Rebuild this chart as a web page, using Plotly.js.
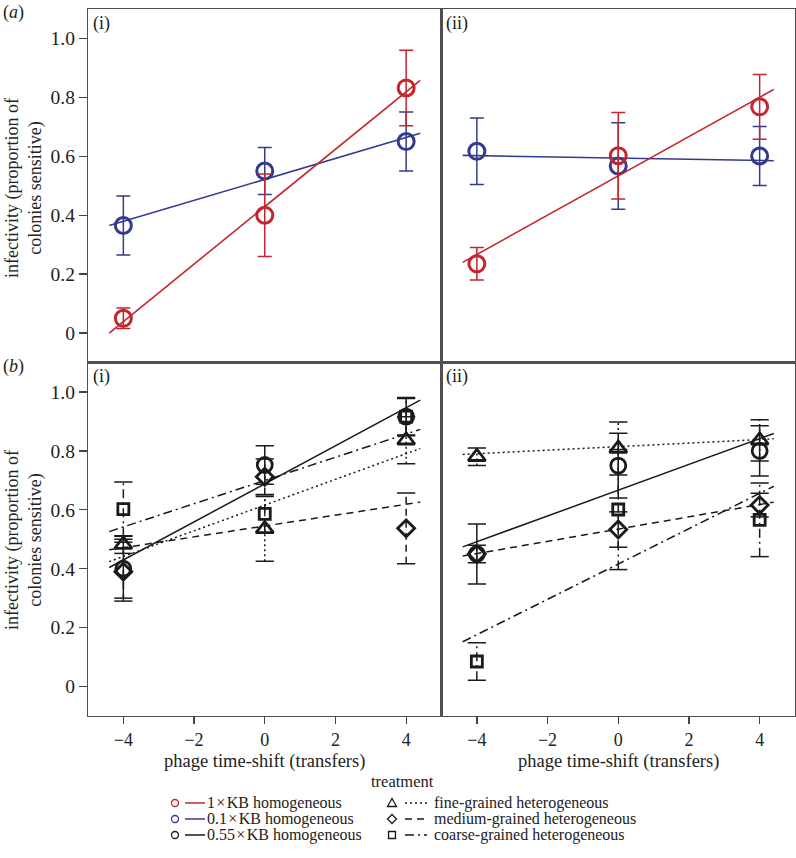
<!DOCTYPE html>
<html>
<head>
<meta charset="utf-8">
<script src="https://cdn.plot.ly/plotly-3.0.1.min.js"></script>
<style>html,body{margin:0;padding:0;background:#fff;}#chart{width:796px;height:858px;}</style>
</head>
<body>
<div id="chart"></div>
<script>
// ---------- DATA ----------
const timeShift = [-4, 0, 4];
const fitX = [-4.4, 4.4];
const yTickVals = [0, 0.2, 0.4, 0.6, 0.8, 1.0];
const yTickText = ['0', '0.2', '0.4', '0.6', '0.8', '1.0'];
const xTickVals = [-4, -2, 0, 2, 4];
const xTickText = ['\u22124', '\u22122', '0', '2', '4'];

// panel (a)(i)
const a1RedY = [0.050, 0.400, 0.832];
const a1RedErr = [0.035, 0.140, 0.128];
const a1RedFit = [0.000, 0.858];
const a1BlueY = [0.365, 0.550, 0.650];
const a1BlueErr = [0.100, 0.080, 0.100];
const a1BlueFit = [0.365, 0.678];
// panel (a)(ii)
const a2RedY = [0.235, 0.602, 0.768];
const a2RedErr = [0.055, 0.147, 0.110];
const a2RedFit = [0.240, 0.827];
const a2BlueY = [0.617, 0.567, 0.601];
const a2BlueErr = [0.113, 0.147, 0.100];
const a2BlueFit = [0.603, 0.585];

// panel (b)(i)
const b1CircY = [0.400, 0.752, 0.916];
const b1CircErr = [0.100, 0.065, 0.065];
const b1CircFit = [0.404, 0.972];
const b1TriY = [0.482, 0.535, 0.836];
const b1TriErr = [0.030, 0.110, 0.080];
const b1TriFit = [0.424, 0.808];
const b1DiaY = [0.390, 0.712, 0.537];
const b1DiaErr = [0.100, 0.060, 0.120];
const b1DiaFit = [0.464, 0.626];
const b1SqY = [0.602, 0.586, 0.916];
const b1SqErr = [0.092, 0.065, 0.062];
const b1SqFit = [0.526, 0.873];
// panel (b)(ii)
const b2CircY = [0.450, 0.750, 0.800];
const b2CircErr = [0.102, 0.110, 0.085];
const b2CircFit = [0.474, 0.859];
const b2TriY = [0.780, 0.808, 0.836];
const b2TriErr = [0.030, 0.090, 0.070];
const b2TriFit = [0.788, 0.841];
const b2DiaY = [0.450, 0.533, 0.616];
const b2DiaErr = [0.030, 0.060, 0.040];
const b2DiaFit = [0.443, 0.626];
const b2SqY = [0.085, 0.601, 0.566];
const b2SqErr = [0.064, 0.204, 0.125];
const b2SqFit = [0.152, 0.680];

// ---------- STYLE ----------
const RED = '#c4262e';
const BLUE = '#333a90';
const BLACK = '#1a1a1a';
const FONT = '"Liberation Serif"';
const DASH = {solid: 'solid', dot: '2px,3px', dash: '7px,5px', dashdot: '9px,4px,2px,4px'};

const traces = [];
function homTrace(xa, ya, ys, errs, fit, color) {
  traces.push({x: fitX, y: fit, xaxis: xa, yaxis: ya, mode: 'lines', type: 'scatter',
    line: {color: color, width: 1.6}, hoverinfo: 'skip', showlegend: false});
  traces.push({x: timeShift, y: ys, xaxis: xa, yaxis: ya, mode: 'markers', type: 'scatter',
    marker: {symbol: 'circle-open', size: 16, color: color, line: {color: color, width: 3}},
    error_y: {type: 'data', array: errs, visible: true, color: color, thickness: 1.5, width: 7},
    showlegend: false});
}
function hetTrace(xa, ya, ys, errs, fit, symbol, size, dash) {
  traces.push({x: fitX, y: fit, xaxis: xa, yaxis: ya, mode: 'lines', type: 'scatter',
    line: {color: BLACK, width: 1.5, dash: DASH[dash]}, hoverinfo: 'skip', showlegend: false});
  const ex = [], ey = [], cx = [], cy = [];
  for (let i = 0; i < timeShift.length; i++) {
    ex.push(timeShift[i], timeShift[i], null);
    ey.push(ys[i] - errs[i], ys[i] + errs[i], null);
    cx.push(timeShift[i], timeShift[i]);
    cy.push(ys[i] - errs[i], ys[i] + errs[i]);
  }
  traces.push({x: ex, y: ey, xaxis: xa, yaxis: ya, mode: 'lines', type: 'scatter',
    line: {color: BLACK, width: 1.5, dash: DASH[dash]}, hoverinfo: 'skip', showlegend: false, connectgaps: false});
  traces.push({x: cx, y: cy, xaxis: xa, yaxis: ya, mode: 'markers', type: 'scatter',
    marker: {symbol: 'line-ew', size: 13, line: {color: BLACK, width: 1.5}}, hoverinfo: 'skip', showlegend: false});
  traces.push({x: timeShift, y: ys, xaxis: xa, yaxis: ya, mode: 'markers', type: 'scatter',
    marker: {symbol: symbol + '-open', size: size, color: BLACK, line: {color: BLACK, width: 2.8}},
    showlegend: false});
}

homTrace('x', 'y', a1BlueY, a1BlueErr, a1BlueFit, BLUE);
homTrace('x', 'y', a1RedY, a1RedErr, a1RedFit, RED);
homTrace('x2', 'y2', a2BlueY, a2BlueErr, a2BlueFit, BLUE);
homTrace('x2', 'y2', a2RedY, a2RedErr, a2RedFit, RED);

hetTrace('x3', 'y3', b1TriY, b1TriErr, b1TriFit, 'triangle-up', 15, 'dot');
hetTrace('x3', 'y3', b1DiaY, b1DiaErr, b1DiaFit, 'diamond', 13, 'dash');
hetTrace('x3', 'y3', b1SqY, b1SqErr, b1SqFit, 'square', 11, 'dashdot');
hetTrace('x3', 'y3', b1CircY, b1CircErr, b1CircFit, 'circle', 15, 'solid');
hetTrace('x4', 'y4', b2TriY, b2TriErr, b2TriFit, 'triangle-up', 15, 'dot');
hetTrace('x4', 'y4', b2DiaY, b2DiaErr, b2DiaFit, 'diamond', 13, 'dash');
hetTrace('x4', 'y4', b2SqY, b2SqErr, b2SqFit, 'square', 11, 'dashdot');
hetTrace('x4', 'y4', b2CircY, b2CircErr, b2CircFit, 'circle', 15, 'solid');

// ---------- LAYOUT ----------
const L = 88, T = 9, W = 707, H = 707;
const px = v => (v - L) / W;
const py = v => (T + H - v) / H;

function xAxis(domain, anchor, showTicks) {
  return {domain: domain, anchor: anchor, range: [-5, 5], showgrid: false, zeroline: false,
    showline: true, mirror: true, linecolor: '#505050', linewidth: 1.2,
    ticks: showTicks ? 'outside' : '', ticklen: 7, tickwidth: 1.3, tickcolor: '#444',
    tickvals: xTickVals, ticktext: xTickText, showticklabels: showTicks,
    tickfont: {family: FONT, size: 18, color: '#222'}, fixedrange: true};
}
function yAxis(domain, anchor, showTicks) {
  return {domain: domain, anchor: anchor, range: [-0.1, 1.1], showgrid: false, zeroline: false,
    showline: true, mirror: true, linecolor: '#505050', linewidth: 1.2,
    ticks: showTicks ? 'outside' : '', ticklen: 8, tickwidth: 1.3, tickcolor: '#444',
    tickvals: yTickVals, ticktext: yTickText, showticklabels: showTicks,
    tickfont: {family: FONT, size: 19.5, color: '#222'}, fixedrange: true};
}

const ann = [];
function text(t, x, y, size, opts) {
  ann.push(Object.assign({text: t, x: px(x), y: py(y), xref: 'paper', yref: 'paper',
    showarrow: false, font: {family: FONT, size: size, color: '#222'}, xanchor: 'center', yanchor: 'middle'}, opts || {}));
}
text('(<i>a</i>)', 1, 13, 18, {xanchor: 'left'});
text('(<i>b</i>)', 1, 366, 18, {xanchor: 'left'});
text('(i)', 91, 23, 18, {xanchor: 'left'});
text('(ii)', 444, 23, 18, {xanchor: 'left'});
text('(i)', 91, 376, 18, {xanchor: 'left'});
text('(ii)', 444, 376, 18, {xanchor: 'left'});
text('infectivity (proportion of<br>colonies sensitive)', 24, 188, 18, {textangle: -90});
text('infectivity (proportion of<br>colonies sensitive)', 24, 540, 18, {textangle: -90});
text('phage time-shift (transfers)', 264.5, 761, 18.5);
text('phage time-shift (transfers)', 618, 761, 18.5);
text('treatment', 402, 782, 16.5);

const legendLeft = ['1\u200a\u00d7\u200aKB homogeneous', '0.1\u200a\u00d7\u200aKB homogeneous', '0.55\u200a\u00d7\u200aKB homogeneous'];
const legendRight = ['fine-grained heterogeneous', 'medium-grained heterogeneous', 'coarse-grained heterogeneous'];
const legendLeftColors = [RED, BLUE, BLACK];
const legendRightSymbols = ['triangle', 'diamond', 'square'];
const legendRightDash = ['dot', 'dash', 'dashdot'];
const rowY = [803, 819, 835];

const shapes = [];
function pshape(s) { shapes.push(Object.assign({xref: 'paper', yref: 'paper'}, s)); }
for (let i = 0; i < 3; i++) {
  const yc = rowY[i], c = legendLeftColors[i];
  pshape({type: 'circle', x0: px(171.5), x1: px(178.5), y0: py(yc - 3.5), y1: py(yc + 3.5), line: {color: c, width: 1.3}});
  pshape({type: 'line', x0: px(185), x1: px(205), y0: py(yc), y1: py(yc), line: {color: c, width: 1.5}});
  text(legendLeft[i], 205, yc, 16, {xanchor: 'left'});

  const xc = 392;
  let path;
  if (legendRightSymbols[i] === 'triangle') {
    path = `M ${px(xc - 4.5)} ${py(yc + 3.5)} L ${px(xc + 4.5)} ${py(yc + 3.5)} L ${px(xc)} ${py(yc - 4.5)} Z`;
  } else if (legendRightSymbols[i] === 'diamond') {
    path = `M ${px(xc - 4.5)} ${py(yc)} L ${px(xc)} ${py(yc - 4.5)} L ${px(xc + 4.5)} ${py(yc)} L ${px(xc)} ${py(yc + 4.5)} Z`;
  } else {
    path = `M ${px(xc - 3.5)} ${py(yc - 3.5)} L ${px(xc + 3.5)} ${py(yc - 3.5)} L ${px(xc + 3.5)} ${py(yc + 3.5)} L ${px(xc - 3.5)} ${py(yc + 3.5)} Z`;
  }
  pshape({type: 'path', path: path, line: {color: BLACK, width: 1.3}});
  pshape({type: 'line', x0: px(405), x1: px(427), y0: py(yc), y1: py(yc),
    line: {color: BLACK, width: 1.3, dash: DASH[legendRightDash[i]]}});
  text(legendRight[i], 432, yc, 16, {xanchor: 'left'});
}

const layout = {
  width: 796, height: 858,
  margin: {l: L, r: 796 - L - W, t: T, b: 858 - T - H, pad: 0},
  paper_bgcolor: '#fff', plot_bgcolor: '#fff',
  showlegend: false,
  font: {family: FONT, size: 17, color: '#222'},
  xaxis: xAxis([0, 0.5], 'y', false),
  yaxis: yAxis([0.5, 1], 'x', true),
  xaxis2: xAxis([0.5, 1], 'y2', false),
  yaxis2: yAxis([0.5, 1], 'x2', false),
  xaxis3: xAxis([0, 0.5], 'y3', true),
  yaxis3: yAxis([0, 0.5], 'x3', true),
  xaxis4: xAxis([0.5, 1], 'y4', true),
  yaxis4: yAxis([0, 0.5], 'x4', false),
  annotations: ann,
  shapes: shapes
};

Plotly.newPlot('chart', traces, layout, {displayModeBar: false, staticPlot: true});
</script>
</body>
</html>
